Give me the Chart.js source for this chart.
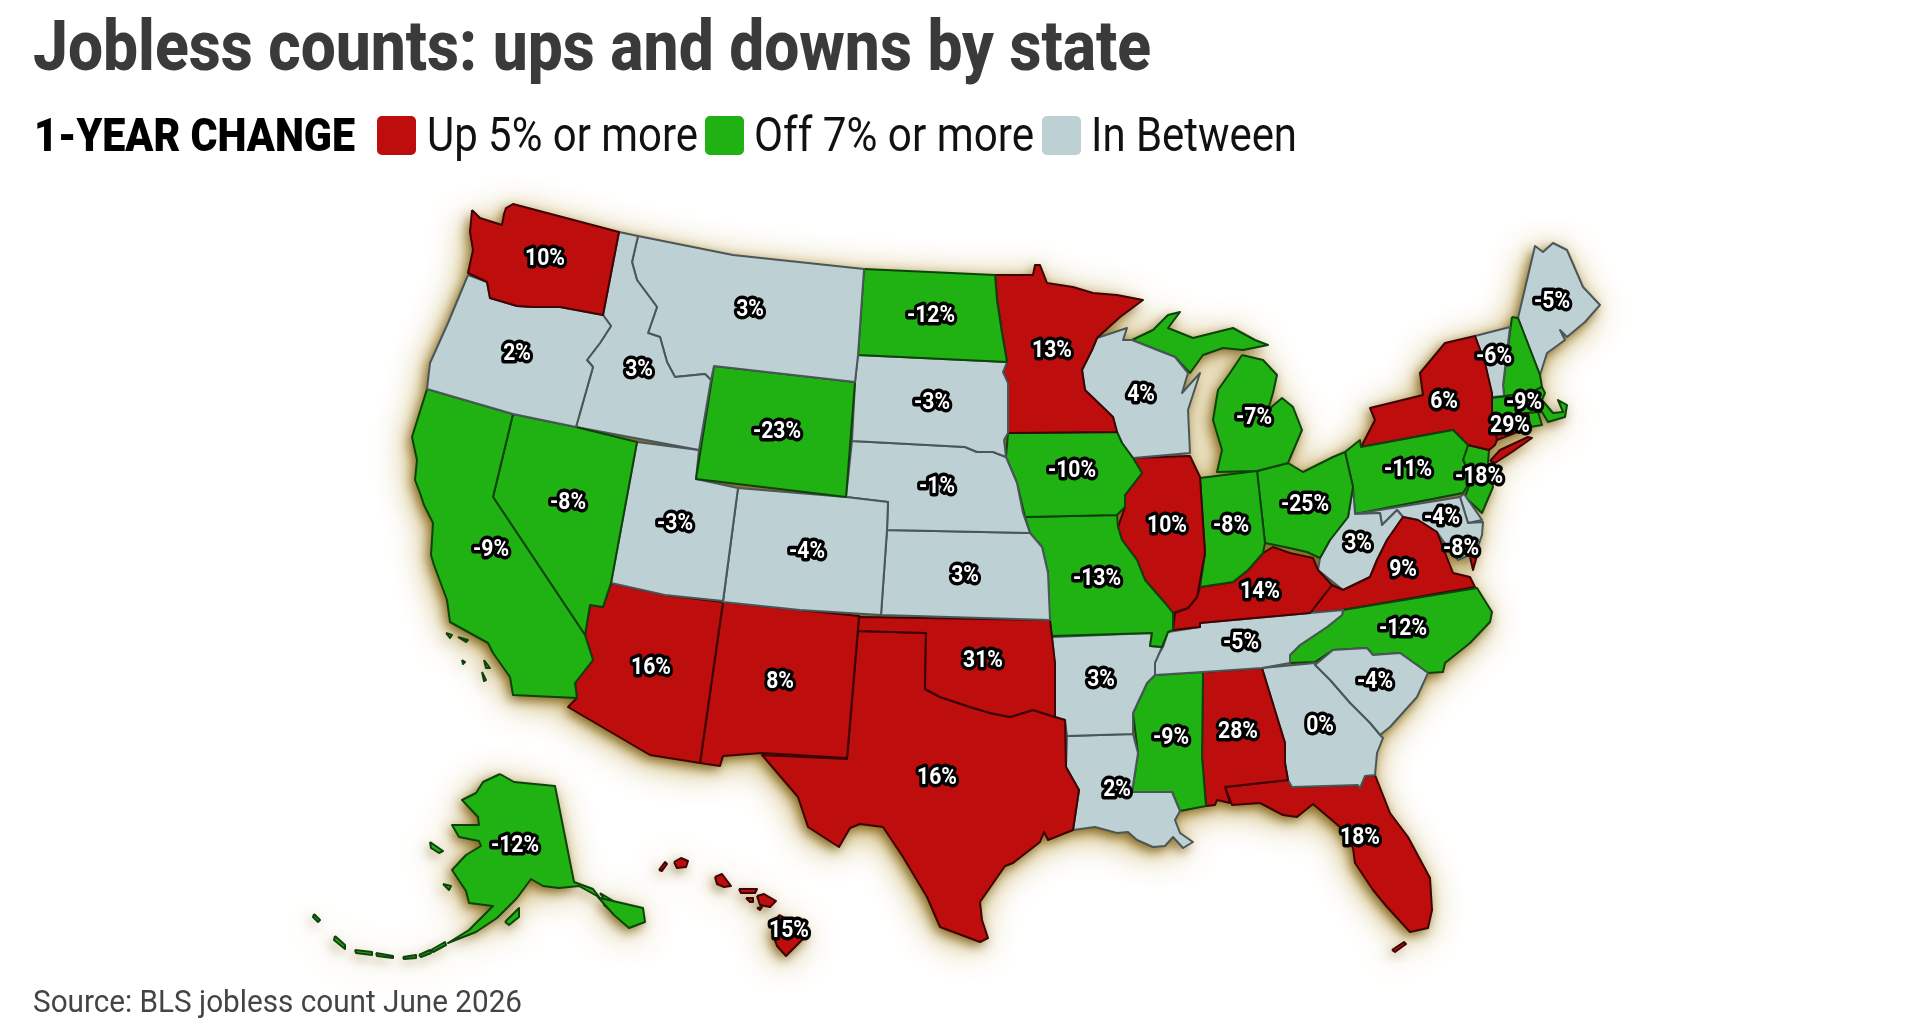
<!DOCTYPE html>
<html>
<head>
<meta charset="utf-8">
<title>Jobless counts</title>
<script src="https://cdn.jsdelivr.net/npm/chart.js@4"></script>
<style>
  body { margin: 0; background: #fff; width: 1920px; height: 1024px; overflow: hidden; font-family: Roboto, sans-serif; }
  canvas { position: absolute; left: 0; top: 0; }
  .txt { position: absolute; white-space: nowrap; transform-origin: left top; line-height: 1; z-index: 2; }
  .swatch { position: absolute; top: 116px; width: 39px; height: 39px; border-radius: 5px; z-index: 2; }
</style>
</head>
<body>
<div class="txt" data-w="1118" style="left:33px;top:10px;font-size:71px;font-weight:800;color:#3a3a3a">Jobless counts: ups and downs by state</div>
<div class="txt" data-w="321" style="left:34px;top:111px;font-size:47px;font-weight:900;color:#000">1-YEAR CHANGE</div>
<div class="swatch" style="left:377px;background:#bd0d0d"></div>
<div class="txt" data-w="271" style="left:427px;top:111px;font-size:48px;color:#111">Up 5% or more</div>
<div class="swatch" style="left:705px;background:#20b213"></div>
<div class="txt" data-w="280" style="left:754px;top:111px;font-size:48px;color:#111">Off 7% or more</div>
<div class="swatch" style="left:1042px;background:#bdd0d3"></div>
<div class="txt" data-w="206" style="left:1091px;top:111px;font-size:48px;color:#111">In Between</div>
<div class="txt" data-w="489" style="left:33px;top:985px;font-size:32px;color:#444">Source: BLS jobless count June 2026</div>

<canvas id="map" width="1920" height="1024"></canvas>

<script>
//---------------------DATA--------------------------------------//
const stateNames = ['WA','OR','CA','NV','ID','MT','WY','UT','CO','AZ','NM','ND','SD','NE','KS','OK','TX','MN','IA','MO','AR','LA','WI','IL','IN','MI','OH','KY','TN','MS','AL','GA','FL','SC','NC','VA','WV','MD','DE','PA','NY','NJ','CT','RI','MA','VT','NH','ME','AK','HI'];
const stateValues = [10,2,-9,-8,3,3,-23,-3,-4,16,8,-12,-3,-1,3,31,16,13,-10,-13,3,2,4,10,-8,-7,-25,14,-5,-9,28,0,18,-4,-12,9,3,-4,-8,-11,6,-18,29,null,-9,-6,null,-5,-12,15];

const upStates = ['WA','AZ','NM','OK','TX','MN','IL','KY','AL','FL','VA','NY','CT','HI'];
const offStates = ['CA','NV','WY','ND','IA','MO','IN','MI','OH','MS','NC','PA','NJ','RI','MA','NH','AK'];

// where each number sits on the map
const labelX = [545,517,491,568,639,750,777,675,807,651,780,931,932,937,965,983,937,1052,1072,1097,1101,1117,1141,1167,1231,1254,1305,1260,1241,1171,1238,1320,1360,1375,1403,1403,1358,1442,1461,1408,1444,1479,1510,0,1524,1494,0,1552,515,789];
const labelY = [258,353,549,502,369,309,431,523,551,667,681,315,402,486,575,660,777,350,470,578,679,789,394,525,525,417,504,591,642,737,731,725,837,681,628,569,543,517,548,469,401,476,425,0,402,356,0,301,845,930];

// state outlines in map units, one list of rings per state
const WA = [[[472,210],[480,218],[502,225],[504,214],[506,208],[513,204],[619,232],[603,315],[560,307],[532,307],[517,306],[490,298],[487,282],[468,273],[473,250],[470,232]],
  [[510,212],[514,226],[509,240],[500,250],[496,253],[499,245],[506,232]]];
const OR = [[[468,275],[487,282],[490,298],[517,306],[532,307],[560,307],[603,315],[611,326],[600,343],[587,360],[593,367],[576,427],[513,414],[427,389],[430,363],[448,323],[463,287]]];
const CA = [[[427,389],[513,414],[493,497],[585,635],[593,660],[575,683],[577,698],[513,695],[510,677],[493,653],[488,643],[450,622],[447,600],[434,565],[431,555],[433,523],[424,505],[420,493],[415,480],[417,460],[412,437]],
  [[446,633],[452,635],[450,638]],[[458,637],[468,640],[466,642]],[[462,660],[465,662],[463,664]],[[484,660],[490,668],[486,668]],[[482,672],[486,680],[484,681]]];
const NV = [[[513,414],[576,427],[637,442],[611,583],[603,607],[590,605],[585,635],[493,497]]];
const ID = [[[619,232],[638,236],[632,262],[637,280],[657,307],[648,333],[660,337],[667,362],[675,377],[705,374],[711,380],[699,450],[576,427],[593,367],[587,360],[600,343],[611,326],[603,315]]];
const MT = [[[638,236],[733,255],[864,269],[858,355],[855,382],[714,366],[711,380],[705,374],[675,377],[667,362],[660,337],[648,333],[657,307],[637,280],[632,262]]];
const WY = [[[714,366],[855,382],[846,497],[696,479]]];
const UT = [[[637,442],[699,450],[696,479],[738,488],[723,601],[665,595],[611,583]]];
const CO = [[[738,488],[846,497],[888,502],[887,530],[881,615],[800,610],[723,602]]];
const AZ = [[[611,583],[665,595],[723,602],[700,763],[650,755],[568,707],[577,698],[575,683],[593,660],[585,635],[590,605],[603,607]]];
const NM = [[[723,602],[859,616],[847,758],[762,753],[723,756],[720,766],[700,763]]];
const ND = [[[864,269],[995,275],[997,300],[1002,333],[1007,362],[858,355]]];
const SD = [[[858,355],[1007,362],[1003,372],[1008,383],[1008,433],[1004,440],[1006,457],[993,452],[977,452],[965,447],[852,441],[855,382]]];
const NE = [[[852,441],[965,447],[977,452],[993,452],[1006,457],[1017,483],[1023,513],[1030,533],[887,530],[888,502],[846,497]]];
const KS = [[[887,530],[1030,533],[1042,547],[1048,573],[1050,620],[881,615]]];
const OK = [[[859,617],[1050,620],[1055,663],[1055,717],[1033,710],[1010,717],[990,713],[970,707],[940,697],[925,689],[926,633],[858,631]]];
const TX = [[[858,631],[926,633],[925,689],[940,697],[970,707],[990,713],[1010,717],[1033,710],[1055,717],[1065,720],[1066,767],[1079,790],[1073,830],[1048,840],[1044,832],[1040,842],[1013,863],[1005,866],[980,902],[982,920],[988,938],[980,942],[940,927],[927,897],[903,857],[883,827],[860,824],[850,828],[839,847],[808,827],[798,797],[762,755],[847,759]]];
const MN = [[[995,275],[1033,275],[1035,265],[1040,265],[1047,283],[1073,287],[1093,293],[1117,295],[1143,300],[1120,317],[1097,338],[1092,350],[1082,370],[1085,390],[1113,417],[1117,432],[1008,433],[1008,383],[1003,372],[1007,362],[1002,333],[997,300]]];
const IA = [[[1008,433],[1117,432],[1122,443],[1133,458],[1142,473],[1125,495],[1125,507],[1117,515],[1025,517],[1017,483],[1006,457]]];
const MO = [[[1025,517],[1117,515],[1118,527],[1122,540],[1137,560],[1145,580],[1165,603],[1173,613],[1173,630],[1168,632],[1162,647],[1150,646],[1152,633],[1052,636],[1049,617],[1048,573],[1042,547],[1030,533]]];
const AR = [[[1052,637],[1152,633],[1150,646],[1162,647],[1155,663],[1155,675],[1147,683],[1133,713],[1133,734],[1067,736],[1065,720],[1055,717],[1055,667]]];
const LA = [[[1067,736],[1133,734],[1138,753],[1132,792],[1172,792],[1180,811],[1175,820],[1180,833],[1193,842],[1183,848],[1173,837],[1165,846],[1153,847],[1137,840],[1128,832],[1117,833],[1095,827],[1073,830],[1079,790],[1066,767]]];
const WI = [[[1097,338],[1127,328],[1123,340],[1132,340],[1175,357],[1188,373],[1182,393],[1200,373],[1188,410],[1190,453],[1133,458],[1122,443],[1117,432],[1113,417],[1085,390],[1082,370],[1092,350]]];
const IL = [[[1133,458],[1190,456],[1200,477],[1205,553],[1197,597],[1188,608],[1173,613],[1165,603],[1145,580],[1137,560],[1122,540],[1118,527],[1125,507],[1125,495],[1142,473]]];
const IN = [[[1200,478],[1257,471],[1265,543],[1263,553],[1248,570],[1233,582],[1200,587],[1205,553]]];
const MI = [[[1132,340],[1153,330],[1168,315],[1180,312],[1168,328],[1193,338],[1233,328],[1255,340],[1268,345],[1243,350],[1223,348],[1203,355],[1190,373],[1175,357]],
  [[1242,355],[1263,360],[1277,375],[1273,393],[1268,410],[1282,398],[1293,407],[1302,430],[1288,463],[1257,471],[1217,472],[1222,450],[1213,420],[1218,390],[1230,373]]];
const OH = [[[1257,471],[1288,463],[1303,472],[1333,457],[1345,452],[1353,487],[1348,517],[1330,540],[1320,558],[1307,552],[1285,547],[1265,543]]];
const KY = [[[1175,613],[1173,630],[1200,627],[1200,623],[1310,613],[1332,585],[1318,570],[1313,558],[1290,553],[1273,547],[1263,553],[1248,570],[1233,582],[1200,587],[1197,597],[1188,608]]];
const TN = [[[1168,632],[1200,627],[1200,623],[1310,613],[1343,610],[1342,615],[1327,627],[1300,645],[1290,655],[1290,663],[1262,668],[1203,672],[1155,675],[1153,663],[1163,647]]];
const MS = [[[1155,675],[1203,672],[1202,757],[1206,806],[1180,811],[1172,792],[1132,792],[1138,753],[1133,713],[1147,683]]];
const AL = [[[1203,672],[1262,668],[1285,743],[1285,763],[1288,780],[1225,787],[1230,803],[1217,800],[1215,805],[1206,806],[1202,757]]];
const GA = [[[1262,668],[1315,663],[1315,665],[1330,680],[1350,703],[1370,723],[1380,735],[1383,738],[1377,753],[1375,775],[1365,776],[1360,788],[1358,785],[1292,787],[1288,780],[1285,763],[1285,743]]];
const FL = [[[1225,787],[1288,780],[1292,787],[1358,785],[1360,788],[1365,776],[1375,775],[1390,813],[1408,837],[1430,878],[1432,910],[1428,928],[1410,932],[1387,907],[1373,890],[1355,863],[1353,848],[1340,827],[1313,804],[1297,817],[1283,815],[1260,803],[1232,805]],
  [[1392,950],[1404,942],[1406,944],[1395,952]]];
const SC = [[[1315,665],[1333,650],[1367,648],[1373,655],[1400,653],[1428,673],[1417,697],[1390,727],[1380,735],[1370,723],[1350,703],[1330,680]]];
const NC = [[[1343,610],[1477,588],[1492,612],[1490,622],[1470,643],[1445,663],[1443,672],[1428,673],[1400,653],[1373,655],[1367,648],[1333,650],[1315,662],[1290,663],[1290,655],[1300,645],[1327,627],[1342,615]]];
const VA = [[[1310,613],[1332,585],[1343,590],[1370,577],[1377,560],[1387,540],[1403,517],[1418,520],[1437,532],[1442,545],[1453,573],[1470,577],[1475,587],[1343,610]],
  [[1470,557],[1478,552],[1473,570]]];
const WV = [[[1353,487],[1355,514],[1380,513],[1382,525],[1397,510],[1403,517],[1387,540],[1377,560],[1370,577],[1343,590],[1318,570],[1320,558],[1330,540],[1348,517]]];
const MD = [[[1355,514],[1454,498],[1460,497],[1468,523],[1483,522],[1482,535],[1476,552],[1458,560],[1448,548],[1437,532],[1418,520],[1403,517],[1397,510],[1382,525],[1380,513]]];
const DE = [[[1460,497],[1464,494],[1482,520],[1468,523]]];
const PA = [[[1345,452],[1360,440],[1361,447],[1453,430],[1468,445],[1463,460],[1472,478],[1463,493],[1355,514],[1353,487]]];
const NY = [[[1361,447],[1375,420],[1370,408],[1423,395],[1420,373],[1445,343],[1475,336],[1485,363],[1492,393],[1492,417],[1497,440],[1495,445],[1489,450],[1468,445],[1453,430]],
  [[1490,461],[1500,450],[1528,437],[1532,438],[1512,452],[1495,463]]];
const NJ = [[[1468,445],[1489,450],[1488,463],[1493,487],[1482,513],[1465,497],[1472,478],[1463,460]]];
const CT = [[[1492,417],[1528,413],[1530,427],[1497,440]]];
const RI = [[[1528,413],[1538,412],[1542,425],[1530,427]]];
const MA = [[[1492,398],[1530,393],[1542,387],[1545,393],[1542,400],[1553,413],[1563,412],[1558,400],[1567,405],[1565,417],[1548,422],[1542,412],[1528,413],[1492,417]]];
const VT = [[[1475,336],[1510,327],[1503,385],[1504,396],[1492,397],[1485,363]]];
const NH = [[[1512,317],[1518,318],[1540,375],[1542,387],[1530,393],[1504,396],[1503,385]]];
const ME = [[[1518,318],[1527,280],[1535,246],[1543,252],[1553,243],[1567,250],[1583,287],[1600,305],[1585,322],[1567,337],[1560,330],[1565,340],[1547,353],[1540,375]]];
const AK = [[[500,774],[514,782],[555,786],[574,882],[593,889],[600,898],[643,908],[645,922],[629,928],[614,915],[597,896],[579,886],[559,888],[543,886],[531,879],[517,898],[497,918],[476,932],[448,943],[469,930],[493,906],[469,903],[466,891],[452,870],[466,855],[481,846],[479,841],[459,837],[452,825],[479,825],[478,817],[462,800],[476,793],[483,782]],
  [[600,893],[620,905],[622,915],[608,905]],[[615,907],[636,915],[632,922],[620,916]],[[606,900],[628,918],[624,922],[604,905]],
  [[505,922],[519,908],[519,917],[509,925]],[[443,884],[451,886],[449,890]],[[430,842],[443,851],[439,853],[431,848]],
  [[431,950],[445,942],[446,945],[433,952]],[[419,955],[430,950],[431,953],[421,957]],[[403,957],[416,955],[416,958],[404,959]],[[376,953],[393,956],[393,958],[377,956]],[[355,950],[372,952],[372,955],[356,953]],[[335,936],[345,945],[345,949],[334,940]],[[314,914],[320,920],[318,922],[313,917]]];
const HI = [[[674,862],[681,858],[688,861],[686,867],[677,868]],[[659,870],[665,862],[667,864],[662,871]],[[715,877],[722,874],[731,886],[724,887],[717,884]],[[739,889],[757,889],[755,893],[741,893]],[[746,898],[753,898],[753,902],[750,902]],[[757,896],[764,894],[776,901],[770,907],[760,905]],[[757,908],[762,907],[760,910]],[[779,915],[810,932],[800,942],[786,956],[777,946],[772,932]]];

const stateOutlines = [WA,OR,CA,NV,ID,MT,WY,UT,CO,AZ,NM,ND,SD,NE,KS,OK,TX,MN,IA,MO,AR,LA,WI,IL,IN,MI,OH,KY,TN,MS,AL,GA,FL,SC,NC,VA,WV,MD,DE,PA,NY,NJ,CT,RI,MA,VT,NH,ME,AK,HI];

//---------------------COLORS--------------------------------------//
function fillFor(name) {
  if (upStates.includes(name)) return '#bd0d0d';
  if (offStates.includes(name)) return '#20b213';
  return '#bdd0d3';
}

function edgeFor(name) {
  if (upStates.includes(name)) return '#3d0404';
  if (offStates.includes(name)) return '#0d430a';
  return '#4b5659';
}

//---------------------DATASETS--------------------------------------//
const datasets = [];
stateNames.forEach((name, i) => {
  stateOutlines[i].forEach(ring => {
    const closed = ring.concat([ring[0]]);
    datasets.push({
      label: name,
      data: closed.map(p => ({ x: p[0], y: p[1] })),
      showLine: true,
      fill: 'shape',
      tension: 0,
      pointRadius: 0,
      borderWidth: 2,
      borderJoinStyle: 'round',
      borderColor: edgeFor(name),
      backgroundColor: fillFor(name)
    });
  });
});

//---------------------PLUGINS--------------------------------------//
// brown glow round the whole map, drawn under the states
function paintGlow(chart, color, blur, dx, dy) {
  const { ctx, scales } = chart;
  ctx.save();
  ctx.shadowColor = color;
  ctx.shadowBlur = blur;
  ctx.shadowOffsetX = dx;
  ctx.shadowOffsetY = dy;
  ctx.fillStyle = '#888';
  ctx.beginPath();
  chart.data.datasets.forEach(ds => {
    ds.data.forEach((p, i) => {
      const x = scales.x.getPixelForValue(p.x);
      const y = scales.y.getPixelForValue(p.y);
      if (i === 0) ctx.moveTo(x, y); else ctx.lineTo(x, y);
    });
    ctx.closePath();
  });
  ctx.fill();
  ctx.restore();
}

const glowPlugin = {
  id: 'glow',
  beforeDatasetsDraw(chart) {
    paintGlow(chart, 'rgba(190,160,70,0.9)', 34, -4, 6);
    paintGlow(chart, 'rgba(120,90,15,0.9)', 12, -3, 4);
  }
};

const valueLabels = {
  id: 'valueLabels',
  afterDatasetsDraw(chart) {
    const { ctx, scales } = chart;
    ctx.save();
    ctx.font = '700 24px Roboto';
    ctx.textAlign = 'center';
    ctx.textBaseline = 'middle';
    ctx.lineJoin = 'round';
    stateValues.forEach((v, i) => {
      if (v === null) return;
      const x = scales.x.getPixelForValue(labelX[i]);
      const y = scales.y.getPixelForValue(labelY[i]);
      ctx.save();
      ctx.translate(x, y + 1);
      ctx.scale(0.88, 1);
      ctx.lineWidth = 7;
      ctx.strokeStyle = '#000';
      ctx.strokeText(v + '%', 0, 0);
      ctx.fillStyle = '#fff';
      ctx.fillText(v + '%', 0, 0);
      ctx.restore();
    });
    ctx.restore();
  }
};

//---------------------CHART--------------------------------------//
new Chart(document.getElementById('map'), {
  type: 'scatter',
  data: { datasets },
  plugins: [glowPlugin, valueLabels],
  options: {
    responsive: false,
    animation: false,
    events: [],
    layout: { padding: 0 },
    plugins: { legend: { display: false }, tooltip: { enabled: false } },
    scales: {
      x: { type: 'linear', min: 0, max: 1920, display: false },
      y: { type: 'linear', min: 0, max: 1024, reverse: true, display: false }
    }
  }
});

//---------------------TEXT WIDTHS--------------------------------------//
document.querySelectorAll('.txt').forEach(el => {
  el.style.transform = `scaleX(${el.dataset.w / el.getBoundingClientRect().width})`;
});
</script>
</body>
</html>
